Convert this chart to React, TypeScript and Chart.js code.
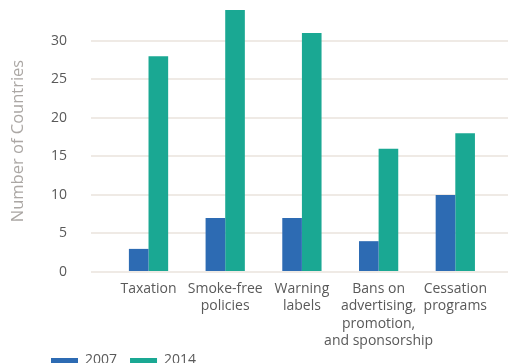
import React, { useEffect, useRef } from "react";
import { Chart, registerables } from "chart.js";

Chart.register(...registerables);

const categories: string[][] = [
  ["Taxation"],
  ["Smoke-free", "policies"],
  ["Warning", "labels"],
  ["Bans on", "advertising,", "promotion,", "and sponsorship"],
  ["Cessation", "programs"],
];
const values2007 = [3, 7, 7, 4, 10];
const values2014 = [28, 34, 31, 16, 18];
const yTicks = [0, 5, 10, 15, 20, 25, 30];
const seriesLabels = ["2007", "2014"];

const FONT = "'Open Sans', sans-serif";

const legendPlace = {
  id: "legendPlace",
  afterLayout(chart: any) {
    const l = chart.legend;
    if (l) {
      l.left += 38;
      l.right += 38;
      const h = l.height;
      l.top = chart.chartArea.bottom + 68.5;
      l.bottom = l.top + h;
    }
  },
};

export default function App() {
  const ref = useRef<HTMLCanvasElement>(null);
  useEffect(() => {
    if (!ref.current) return;
    const chart = new Chart(ref.current, {
      type: "bar",
      data: {
        datasets: [
          {
            label: seriesLabels[0],
            data: values2007.map((v, i) => ({ x: i, y: v })),
            backgroundColor: "#2d6bb3",
            categoryPercentage: 0.512,
            barPercentage: 1,
          },
          {
            label: seriesLabels[1],
            data: values2014.map((v, i) => ({ x: i, y: v })),
            backgroundColor: "#1aa893",
            categoryPercentage: 0.512,
            barPercentage: 1,
          },
        ],
      },
      options: {
        animation: false,
        responsive: false,
        layout: { padding: { top: 10, left: 0, right: 0, bottom: 0 } },
        plugins: {
          tooltip: { enabled: false },
          legend: {
            position: "bottom",
            align: "start",
            labels: {
              boxWidth: 27,
              boxHeight: 5,
              padding: 13,
              color: "#595959",
              font: { family: FONT, size: 14 },
            },
          },
        },
        scales: {
          x: {
            type: "linear",
            min: -0.75,
            max: 4.687,
            offset: false,
            afterBuildTicks: (scale: any) => {
              scale.ticks = categories.map((_, i) => ({ value: i }));
            },
            afterFit: (scale: any) => {
              scale.height = 85;
              scale.paddingLeft = 0;
              scale.paddingRight = 0;
              scale.paddingTop = 0;
              scale.paddingBottom = 0;
            },
            grid: { display: false, drawTicks: false },
            border: { display: false },
            ticks: {
              autoSkip: false,
              maxRotation: 0,
              padding: 8,
              color: "#595959",
              font: { family: FONT, size: 14, lineHeight: 1.25 },
              callback: (v: any) => categories[v] ?? "",
            },
          },
          y: {
            min: 0,
            max: 34,
            afterBuildTicks: (scale: any) => {
              scale.ticks = yTicks.map((v) => ({ value: v }));
            },
            afterFit: (scale: any) => {
              scale.width = 91;
              scale.paddingTop = 0;
              scale.paddingBottom = 0;
              scale.paddingLeft = 0;
              scale.paddingRight = 0;
            },
            grid: { color: "#efeae5", lineWidth: 2, drawTicks: false },
            border: { display: false },
            ticks: {
              padding: 24,
              color: "#595959",
              font: { family: FONT, size: 14 },
            },
            title: {
              display: true,
              text: "Number of Countries",
              color: "#aba7a4",
              font: { family: FONT, size: 16.5, lineHeight: 1.2 },
              padding: { top: 8.5, bottom: 0 },
            },
          },
        },
      },
      plugins: [legendPlace],
    } as any);
    return () => chart.destroy();
  }, []);
  return (
    <div
      style={{
        position: "fixed",
        left: 0,
        top: 0,
        width: 508,
        height: 363,
        overflow: "hidden",
        background: "#fff",
      }}
    >
      <canvas ref={ref} width={508} height={394} style={{ display: "block" }} />
    </div>
  );
}
